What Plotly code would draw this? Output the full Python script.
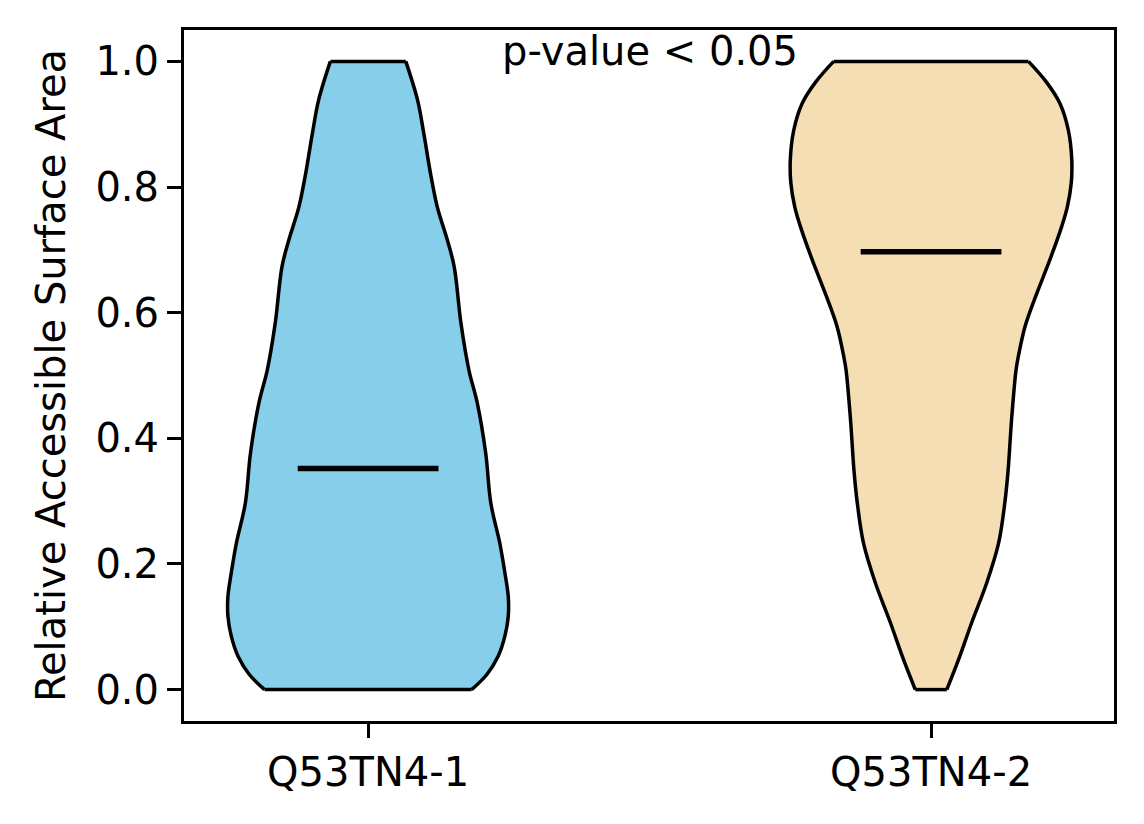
import plotly.graph_objects as go

# groups
labels = ["Q53TN4-1", "Q53TN4-2"]
positions = [1, 2]
colors = ["skyblue", "wheat"]
means = [0.352, 0.697]

# violin outlines: y level and half-width (x units)
v1_y = [0.0, 0.024, 0.053, 0.085, 0.117, 0.148, 0.186, 0.233, 0.297, 0.376,
        0.456, 0.509, 0.583, 0.673, 0.715, 0.768, 0.821, 0.885, 0.938, 1.0]
v1_hw = [0.184, 0.211, 0.231, 0.243, 0.249, 0.249, 0.243, 0.234, 0.218, 0.209,
         0.194, 0.179, 0.165, 0.153, 0.141, 0.123, 0.111, 0.099, 0.088, 0.067]

v2_y = [0.0, 0.048, 0.106, 0.170, 0.233, 0.297, 0.350, 0.429, 0.509, 0.530,
        0.578, 0.631, 0.684, 0.737, 0.768, 0.806, 0.843, 0.890, 0.933, 0.967, 1.0]
v2_hw = [0.028, 0.049, 0.072, 0.099, 0.120, 0.131, 0.137, 0.143, 0.151, 0.155,
         0.167, 0.188, 0.211, 0.232, 0.242, 0.249, 0.250, 0.244, 0.229, 0.205, 0.173]

mean_halfwidth = 0.125
font = "DejaVu Sans"
edge = dict(color="black", width=3.5)

fig = go.Figure()

for pos, ys, hws, col in zip(positions, [v1_y, v2_y], [v1_hw, v2_hw], colors):
    right = [pos + w for w in hws]
    left = [pos - w for w in hws]
    # body fill
    fig.add_trace(go.Scatter(x=right + left[::-1], y=ys + ys[::-1], mode="lines",
                             fill="toself", fillcolor=col, line=dict(width=0),
                             hoverinfo="skip", showlegend=False))
    # smooth sides
    for side in (right, left):
        fig.add_trace(go.Scatter(x=side, y=ys, mode="lines", line=edge,
                                 line_shape="spline", hoverinfo="skip", showlegend=False))
    # flat ends
    fig.add_trace(go.Scatter(x=[left[0], right[0], None, left[-1], right[-1]],
                             y=[ys[0], ys[0], None, ys[-1], ys[-1]],
                             mode="lines", line=edge, hoverinfo="skip", showlegend=False))

# mean lines
for pos, m in zip(positions, means):
    fig.add_trace(go.Scatter(x=[pos - mean_halfwidth, pos + mean_halfwidth], y=[m, m],
                             mode="lines", line=dict(color="black", width=5.5),
                             showlegend=False))

fig.add_annotation(x=1.5, y=1.0, xref="x", yref="y", text="p-value < 0.05",
                   showarrow=False, xanchor="center", yanchor="middle", yshift=10,
                   font=dict(family=font, size=40, color="black"))

# page body adds 8px, so the figure is drawn 8px smaller
fig.update_layout(width=1136, height=816,
                  margin=dict(l=176, r=30, t=22, b=103),
                  plot_bgcolor="white", paper_bgcolor="white",
                  font=dict(family=font, size=40, color="black"),
                  showlegend=False)

fig.update_xaxes(range=[0.673, 2.325], tickvals=positions, ticktext=labels,
                 showgrid=False, zeroline=False, showline=True, linecolor="black",
                 linewidth=3, mirror=True, ticks="outside", ticklen=14, tickwidth=3,
                 tickcolor="black", tickfont=dict(family=font, size=40))
fig.update_yaxes(range=[-0.05, 1.05], tickvals=[0, 0.2, 0.4, 0.6, 0.8, 1.0],
                 tickformat=".1f", showgrid=False, zeroline=False, showline=True,
                 linecolor="black", linewidth=3, mirror=True, ticks="outside",
                 ticklen=14, tickwidth=3, tickcolor="black",
                 tickfont=dict(family=font, size=40),
                 title=dict(text="Relative Accessible Surface Area",
                            font=dict(family=font, size=40), standoff=18))

fig.write_html("out.html")
